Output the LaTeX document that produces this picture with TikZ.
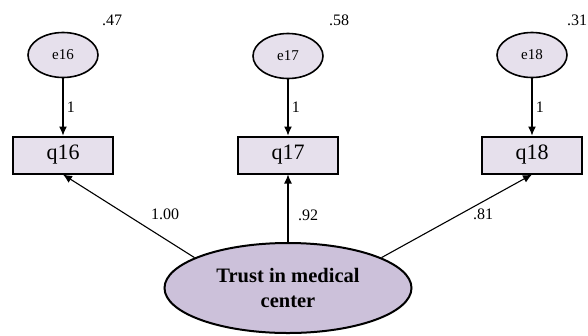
\documentclass[tikz,border=0pt]{standalone}
\usepackage{fontspec}
\setmainfont{Liberation Serif}
\usetikzlibrary{shapes.geometric,arrows.meta}
\definecolor{errfill}{HTML}{E6E0EC}
\definecolor{latfill}{HTML}{CCC1DA}

\begin{document}
\begin{tikzpicture}[x=1pt,y=-1pt,
  err/.style={ellipse,draw=black,line width=1.6pt,fill=errfill,minimum width=70pt,
    minimum height=45pt,inner sep=0pt,font=\fontsize{15}{15}\selectfont},
  obs/.style={rectangle,draw=black,line width=2pt,fill=errfill,minimum width=100pt,
    minimum height=37pt,inner sep=0pt,font=\fontsize{22}{22}\selectfont},
  latent/.style={ellipse,draw=black,line width=2pt,fill=latfill,minimum width=247pt,
    minimum height=90pt,align=center,font=\fontsize{20.5}{25}\selectfont\bfseries},
  path/.style={-{Latex[length=9pt,width=8pt]},line width=1.1pt},
  est/.style={font=\fontsize{16}{16}\selectfont}
]
  \useasboundingbox (0,0) rectangle (588,335);
  % error terms
  \node[err] (e16) at (63,55) {e16};
  \node[err] (e17) at (288,56) {e17};
  \node[err] (e18) at (532,55) {e18};
  \node[est] (v16) at (112,20) {.47};
  \node[est] (v17) at (339,20) {.58};
  \node[est] (v18) at (577,20) {.31};
  % indicators
  \node[obs] (q16) at (63,155) {q16};
  \node[obs] (q17) at (288,155) {q17};
  \node[obs] (q18) at (532,155) {q18};
  % factor
  \node[latent] (trust) at (288,288) {Trust in medical\\center};
  \draw[path] (e16) -- node[est,right] {1} (q16);
  \draw[path] (e17) -- node[est,right] {1} (q17);
  \draw[path] (e18) -- node[est,right] {1} (q18);
  \draw[path] (trust.162) -- (q16.south);
  \draw[path] (trust.north) -- (q17.south);
  \draw[path] (trust.18) -- (q18.south);
  \node[est] (l16) at (165,214) {1.00};
  \node[est] (l17) at (308,215) {.92};
  \node[est] (l18) at (483,214) {.81};
\end{tikzpicture}
\end{document}
